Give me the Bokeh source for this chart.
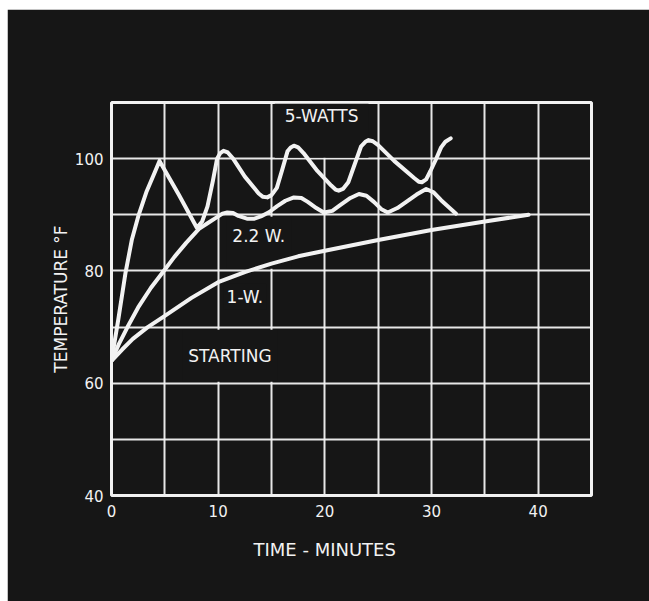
from bokeh.plotting import figure
from bokeh.models import FixedTicker, Label, Title
from bokeh.embed import file_html
from bokeh.resources import INLINE

# ---- data ----
time_5w = [0, 0.3, 0.65, 1.3, 1.9, 2.55, 3.3, 4.0, 4.5,
           6.3, 8.0, 8.5, 9.0, 9.5, 9.9, 10.2, 10.5, 10.9, 11.4,
           12.5, 13.8, 14.2, 14.6, 15.0, 15.5, 16.0, 16.5, 16.8, 17.1,
           17.5, 18.0, 19.3, 20.6, 21.0, 21.3, 21.7, 22.2, 22.8, 23.4,
           23.8, 24.1, 24.5, 25.0, 26.5, 28.4, 28.8, 29.1, 29.5, 29.9,
           30.4, 30.9, 31.3, 31.8]
temp_5w = [64, 67.5, 71.5, 79.5, 85.5, 90, 94.2, 97.3, 99.6,
           93.6, 87.7, 88.8, 91.5, 96.0, 100.0, 101.0, 101.4, 101.1, 100.0,
           96.8, 93.8, 93.2, 93.1, 93.5, 94.8, 98.0, 101.3, 102.0, 102.3,
           102.0, 101.0, 97.8, 95.2, 94.5, 94.3, 94.6, 95.8, 99.0, 102.2,
           103.0, 103.3, 103.1, 102.4, 99.6, 96.5, 95.9, 95.8, 96.3, 97.8,
           99.8, 102.0, 103.0, 103.6]

time_2w = [0, 0.7, 1.5, 2.5, 3.7, 4.9, 5.9, 7.0, 8.2, 9.0,
           9.75, 10.4, 10.85, 11.4, 11.9, 12.7, 13.4, 14.0, 14.8, 15.5,
           16.3, 17.1, 17.8, 18.4, 19.2, 19.9, 20.7, 21.5, 22.4, 23.2,
           23.9, 24.6, 25.3, 25.9, 26.8, 27.7, 28.6, 29.5, 30.2, 30.9,
           31.6, 32.3]
temp_2w = [64, 67, 70, 73.5, 77, 80, 82.5, 85, 87.5, 88.5,
           89.4, 90.2, 90.4, 90.3, 89.8, 89.3, 89.3, 89.7, 90.5, 91.5,
           92.5, 93.1, 93.0, 92.3, 91.2, 90.4, 90.7, 91.8, 93.0, 93.7,
           93.4, 92.3, 91.0, 90.4, 91.2, 92.4, 93.6, 94.6, 94.0, 92.6,
           91.4, 90.2]

time_1w = [0, 1, 2, 3.4, 5, 7.5, 10, 12.5, 15, 17.5, 20, 25, 30, 35, 39.1]
temp_1w = [64, 66, 67.9, 70, 72, 75.2, 78, 79.8, 81.3, 82.6, 83.6, 85.5, 87.3, 88.8, 90.0]

x_tick_labels = [0, 10, 20, 30, 40]
y_tick_labels = [40, 60, 80, 100]
x_grid = [0, 5, 10, 15, 20, 25, 30, 35, 40, 45]
y_grid = [40, 50, 60, 70, 80, 90, 100, 110]

curve_labels = ["5-WATTS", "2.2 W.", "1-W.", "STARTING"]
label_x = [19.7, 13.8, 12.5, 11.1]
label_y = [104.95, 85.0, 75.4, 64.9]

BG = "#161616"
FG = "#f2f2f2"
FONT = "DejaVu Sans"

p = figure(width=642, height=592, x_range=(0, 45), y_range=(40, 110),
           output_backend="svg", toolbar_location=None,
           min_border_left=104, min_border_right=58, min_border_top=93, min_border_bottom=106,
           background_fill_color=BG, border_fill_color=BG,
           outline_line_color=FG, outline_line_width=3)
p.margin = (9, 0, 0, 7)

p.xgrid.ticker = FixedTicker(ticks=x_grid)
p.ygrid.ticker = FixedTicker(ticks=y_grid)
for g in (p.xgrid, p.ygrid):
    g.grid_line_color = FG
    g.grid_line_width = 2
    g.grid_line_alpha = 0.95

p.xaxis.ticker = FixedTicker(ticks=x_tick_labels)
p.yaxis.ticker = FixedTicker(ticks=y_tick_labels)
for ax in (p.xaxis, p.yaxis):
    ax.axis_line_color = None
    ax.major_tick_line_color = None
    ax.minor_tick_line_color = None
    ax.major_tick_out = 0
    ax.major_tick_in = 0
    ax.minor_tick_out = 0
    ax.minor_tick_in = 0
    ax.major_label_text_color = FG
    ax.major_label_text_font = FONT
    ax.major_label_text_font_size = "15px"
p.xaxis.major_label_standoff = 9
p.yaxis.major_label_standoff = 8

p.yaxis.axis_label = "TEMPERATURE °F"
p.yaxis.axis_label_text_color = FG
p.yaxis.axis_label_text_font = FONT
p.yaxis.axis_label_text_font_size = "17px"
p.yaxis.axis_label_text_font_style = "normal"
p.yaxis.axis_label_standoff = 1

paddings = [dict(left=10, right=10, top=2, bottom=32),
            dict(left=6, right=6, top=9, bottom=23),
            dict(left=3, right=3, top=3, bottom=3),
            dict(left=6, right=6, top=16, bottom=16)]
for t, lx, ly, pad in zip(curve_labels, label_x, label_y, paddings):
    p.add_layout(Label(x=lx, y=ly, text=t, text_align="center", text_baseline="middle",
                       text_color=FG, text_font=FONT, text_font_size="17px",
                       background_fill_color=BG, padding=pad, level="underlay"))

for xs, ys in ((time_1w, temp_1w), (time_2w, temp_2w), (time_5w, temp_5w)):
    p.line(xs, ys, line_color=FG, line_width=4, line_join="round", line_cap="round")

x_title = Title(text="TIME - MINUTES", align="left", offset=142, text_color=FG,
                text_font=FONT, text_font_size="18px", text_font_style="normal",
                standoff=34)
p.add_layout(x_title, "below")

open("out.html", "w").write(file_html(p, INLINE))
